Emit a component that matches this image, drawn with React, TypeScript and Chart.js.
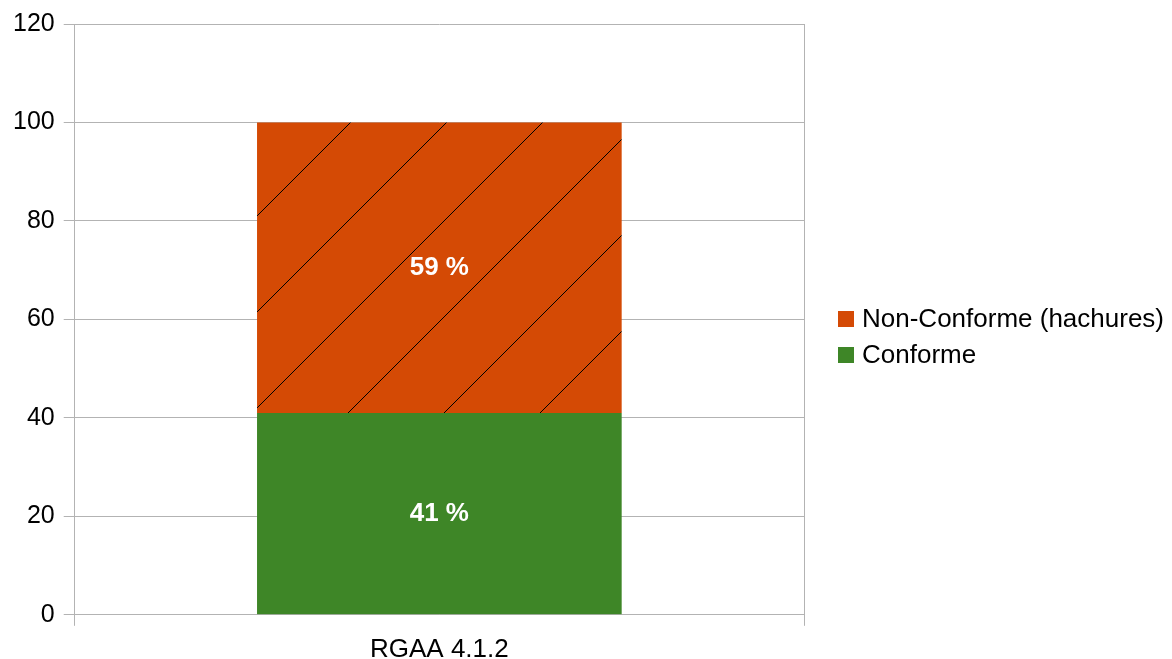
import React, { useEffect, useRef } from "react";
import { Chart, registerables } from "chart.js";

Chart.register(...registerables);

const categories = ["RGAA 4.1.2"];
const seriesNames = ["Conforme", "Non-Conforme (hachures)"];
const conformeValues = [41];
const nonConformeValues = [59];
const seriesColors = ["#3e8627", "#d44a05"];
const yTicks = { min: 0, max: 120, step: 20 };

const FONT = "'Liberation Sans', Arial, sans-serif";
const FS = 26;

function makeHatch(color: string): CanvasPattern | string {
  const size = 96;
  const c = document.createElement("canvas");
  c.width = size;
  c.height = size;
  const g = c.getContext("2d");
  if (!g) return color;
  g.fillStyle = color;
  g.fillRect(0, 0, size, size);
  g.strokeStyle = "#000000";
  g.lineWidth = 1;
  const k = 89;
  g.beginPath();
  g.moveTo(k + 20, -20);
  g.lineTo(-20, k + 20);
  g.moveTo(k + size + 20, -20);
  g.lineTo(-20, k + size + 20);
  g.moveTo(k - size + 20, -20);
  g.lineTo(-20, k - size + 20);
  g.stroke();
  const p = g.createPattern(c, "repeat");
  return p || color;
}

const valueLabels = {
  id: "valueLabels",
  afterDatasetsDraw(chart: any) {
    const ctx = chart.ctx;
    ctx.save();
    ctx.fillStyle = "#ffffff";
    ctx.font = `bold ${FS}px ${FONT}`;
    ctx.textAlign = "center";
    ctx.textBaseline = "middle";
    chart.data.datasets.forEach((ds: any, di: number) => {
      const meta = chart.getDatasetMeta(di);
      meta.data.forEach((bar: any, i: number) => {
        const v = ds.data[i];
        const y = (bar.y + bar.base) / 2;
        ctx.fillText(`${v} %`, bar.x, y);
      });
    });
    ctx.restore();
  },
};

// Legend drawn at the right of the plot (Chart.js caps a right legend's width)
const sideLegend = {
  id: "sideLegend",
  afterDraw(chart: any) {
    const ctx = chart.ctx;
    const area = chart.chartArea;
    const n = chart.data.datasets.length;
    const rowH = 36;
    const box = 16;
    const x0 = area.right + 34;
    const midY = chart.height / 2 + 7;
    ctx.save();
    ctx.font = `${FS}px ${FONT}`;
    ctx.textBaseline = "middle";
    ctx.textAlign = "left";
    for (let r = 0; r < n; r++) {
      const di = n - 1 - r; // reversed order
      const ds = chart.data.datasets[di];
      const cy = midY + (r - (n - 1) / 2) * rowH;
      ctx.fillStyle = seriesColors[di];
      ctx.fillRect(x0, Math.round(cy - box / 2), box, box);
      ctx.fillStyle = "#000000";
      ctx.fillText(ds.label, x0 + box + 8, cy + 1);
    }
    ctx.restore();
  },
};

export default function App() {
  const ref = useRef<HTMLCanvasElement>(null);
  useEffect(() => {
    if (!ref.current) return;
    const hatch = makeHatch(seriesColors[1]);
    const chart = new Chart(ref.current, {
      type: "bar",
      data: {
        labels: categories,
        datasets: [
          {
            label: seriesNames[0],
            data: conformeValues,
            backgroundColor: seriesColors[0],
            borderWidth: 0,
            barPercentage: 0.5,
            categoryPercentage: 1,
          },
          {
            label: seriesNames[1],
            data: nonConformeValues,
            backgroundColor: hatch as any,
            borderWidth: 0,
            barPercentage: 0.5,
            categoryPercentage: 1,
          },
        ],
      },
      options: {
        animation: false,
        responsive: false,
        devicePixelRatio: 1,
        layout: { padding: { top: 14, right: 368, bottom: -14, left: 4 } },
        plugins: {
          tooltip: { enabled: false },
          legend: { display: false },
        },
        scales: {
          x: {
            stacked: true,
            grid: { color: "#b3b3b3", tickLength: 11, offset: true },
            border: { color: "#b3b3b3" },
            ticks: { font: { family: FONT, size: FS }, color: "#000000", padding: 8 },
          },
          y: {
            stacked: true,
            min: yTicks.min,
            max: yTicks.max,
            grid: { color: "#b3b3b3", tickLength: 11 },
            border: { color: "#b3b3b3" },
            ticks: {
              stepSize: yTicks.step,
              font: { family: FONT, size: 25 },
              color: "#000000",
              padding: 9,
            },
          },
        },
      },
      plugins: [valueLabels, sideLegend],
    });
    return () => chart.destroy();
  }, []);
  return (
    <div style={{ position: "fixed", left: 0, top: 0, width: 1172, height: 659, background: "#fff" }}>
      <canvas ref={ref} width={1172} height={659} style={{ display: "block" }} />
    </div>
  );
}
